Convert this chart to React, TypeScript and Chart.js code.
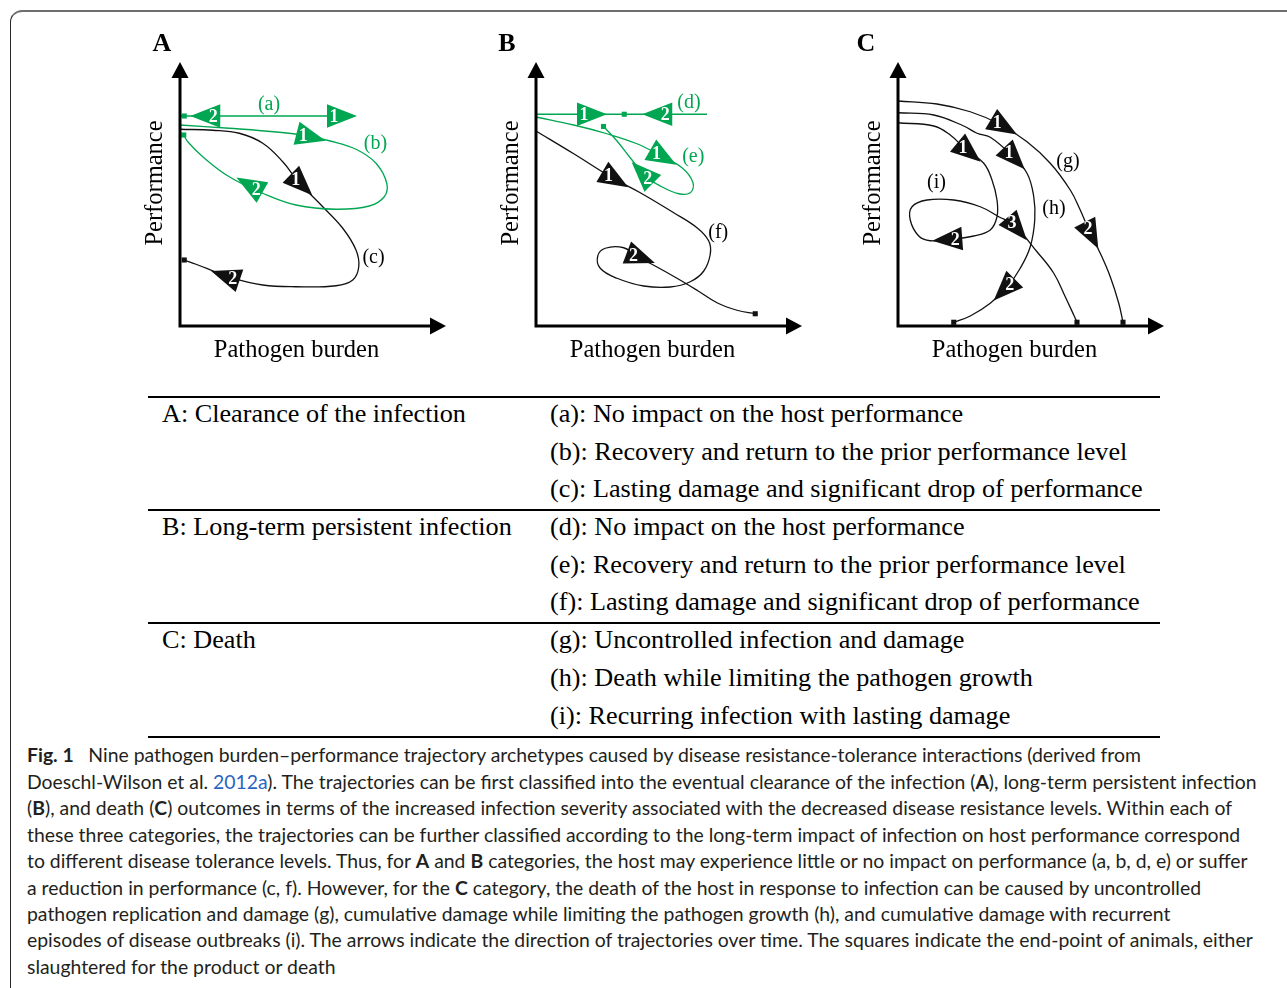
import React, { useEffect, useRef } from "react";
import { Chart, registerables } from "chart.js";

Chart.register(...registerables);

type P = [number, number];
type Arrow = [number, number, number, string]; // x, y, direction (deg, screen), number
type Label = [number, number, string];

const GREEN = "#00a651";
const BLACK = "#111111";
const SERIF = '"Liberation Serif", "Times New Roman", Times, serif';
const SANS = 'Lato, "Open Sans", "Noto Sans", sans-serif';

// ---------- Panel A: clearance ----------
const aPts: P[] = [[0, 84], [60, 84]];
const aArrows: Arrow[] = [[62.8, 84, 0, "1"], [12.1, 84, 180, "2"]];
const aEnd: P = [1.7, 84];
const aLabel: Label = [35.6, 88.6, "(a)"];

const bPts: P[] = [
  [0, 80.4], [19.7, 79.1], [39.7, 77.5], [50.5, 76.1], [59.7, 74.1], [70.4, 70.7],
  [78.4, 65.1], [82.7, 57.1], [81.7, 51.7], [75.7, 48], [62.4, 46.7], [46.4, 48.4],
  [33.1, 53.1], [19.7, 59.7], [9.1, 67.7], [3.1, 73.7], [1.5, 76.4],
];
const bArrows: Arrow[] = [[50.5, 76.1, 14.5, "1"], [29.5, 55.4, 209.6, "2"]];
const bEnd: P = [1.5, 76.4];
const bLabel: Label = [78.2, 72.8, "(b)"];

const cPts: P[] = [
  [0, 78.7], [13.1, 78.3], [23.7, 77.1], [33.1, 73.1], [41.1, 65.7], [47.2, 57.9],
  [57.1, 47.7], [65.1, 39.1], [70.4, 30.4], [71.5, 23.7], [69.1, 18.4], [62.4, 16.1],
  [46.4, 15.7], [33.1, 16.4], [20, 19.4], [13.1, 22.1], [6.4, 24.7], [1.7, 26.4],
];
const cArrows: Arrow[] = [[47.2, 57.9, 44.5, "1"], [20, 19.4, 198.8, "2"]];
const cEnd: P = [1.7, 26.4];
const cLabel: Label = [77.4, 27.3, "(c)"];

// ---------- Panel B: persistent infection ----------
const dPts: P[] = [[0, 84.7], [68.4, 84.7]];
const dArrows: Arrow[] = [[20.4, 84.7, 0, "1"], [50.5, 84.7, 180, "2"]];
const dEnd: P = [35.3, 84.7];
const dLabel: Label = [61.2, 89.4, "(d)"];

const ePts: P[] = [
  [0, 83.6], [15.1, 80.4], [28.4, 76.9], [40.4, 72.9], [49.2, 68.5], [58.4, 63.3],
  [62.8, 57.3], [61.7, 53.3], [57.1, 52.9], [49.7, 56], [43.9, 59.9], [37.7, 67.3],
  [32.4, 74], [27, 79.8],
];
const eArrows: Arrow[] = [[49.2, 68.5, 30, "1"], [43.9, 59.9, 225, "2"]];
const eEnd: P = [27, 79.8];
const eLabel: Label = [62.9, 67.6, "(e)"];

const fPts: P[] = [
  [0, 78], [15.1, 68.9], [30, 59.6], [41.7, 53.3], [55.1, 45.3], [64.4, 39.3],
  [69.1, 34], [69.7, 28.7], [67.1, 22], [61.7, 17.7], [53.7, 15.6], [43.1, 16],
  [32.4, 19.1], [25.7, 23.1], [24.7, 28], [27.7, 31.1], [35.1, 31.3], [40.1, 28],
  [48.4, 23.6], [56.4, 19.1], [64.4, 14.3], [72.4, 9.3], [80.4, 6.3], [87.7, 4.9],
];
const fArrows: Arrow[] = [[30, 59.6, 30.5, "1"], [40.1, 28, 20.8, "2"]];
const fEnd: P = [87.7, 4.9];
const fLabel: Label = [72.9, 37.4, "(f)"];

// ---------- Panel C: death ----------
const gPts: P[] = [
  [0, 90], [15.6, 88.8], [28.9, 85.7], [40.7, 80.7], [51.6, 73.7], [60.9, 65.1],
  [68.9, 54.4], [72.9, 46.4], [76.5, 38], [80.9, 29.1], [84.9, 19.7], [88.3, 9.1], [90, 1.5],
];
const gArrows: Arrow[] = [[40.7, 80.7, 30.6, "1"], [76.5, 38, 63, "2"]];
const gEnd: P = [90, 1.5];
const gLabel: Label = [68, 65.8, "(g)"];

const hPts: P[] = [
  [0, 85.3], [14.3, 84.4], [26.3, 80], [31.6, 77.1], [36.9, 75.5], [45.2, 68.5],
  [51.6, 61.1], [54.3, 51.7], [54.7, 42.4], [52.9, 31.7], [48.9, 23.1], [43.9, 15.9],
  [36.9, 9.1], [28.9, 4], [22.3, 1.5],
];
const hArrows: Arrow[] = [[45.2, 68.5, 46.7, "1"], [43.9, 15.9, 134.5, "2"]];
const hEnd: P = [22.3, 1.5];
const hLabel: Label = [62.4, 47, "(h)"];

const iPts: P[] = [
  [0, 81.3], [14.3, 80], [20.9, 76.4], [26.9, 70.8], [34.3, 65.1], [37.6, 58.4],
  [39.6, 50.4], [39.6, 43.7], [36.9, 38.4], [30.3, 36], [21.7, 34.7], [12.9, 34.1],
  [8.3, 36], [4.9, 42.4], [5.6, 47.7], [11.6, 50.4], [22.3, 50.4], [32.9, 47.7],
  [40.3, 43.7], [46.4, 40.4], [55.6, 29.7], [62.3, 21.1], [66.9, 11.7], [70.3, 4.4], [71.6, 1.5],
];
const iArrows: Arrow[] = [[26.9, 70.8, 39.8, "1"], [21.7, 34.7, 175.8, "2"], [46.4, 40.4, 50, "3"]];
const iEnd: P = [71.6, 1.5];
const iLabel: Label = [15.4, 57.4, "(i)"];

// ---------- Table ----------
const tableHeads = [
  "A: Clearance of the infection",
  "B: Long-term persistent infection",
  "C: Death",
];
const tableItems = [
  [
    "(a): No impact on the host performance",
    "(b): Recovery and return to the prior performance level",
    "(c): Lasting damage and significant drop of performance",
  ],
  [
    "(d): No impact on the host performance",
    "(e): Recovery and return to the prior performance level",
    "(f): Lasting damage and significant drop of performance",
  ],
  [
    "(g): Uncontrolled infection and damage",
    "(h): Death while limiting the pathogen growth",
    "(i): Recurring infection with lasting damage",
  ],
];

// ---------- Caption ----------
const captionLines = [
  "**Fig. 1**\u2002 Nine pathogen burden\u2013performance trajectory archetypes caused by disease resistance-tolerance interactions (derived from",
  "Doeschl-Wilson et al. [[2012a]]). The trajectories can be first classified into the eventual clearance of the infection (**A**), long-term persistent infection",
  "(**B**), and death (**C**) outcomes in terms of the increased infection severity associated with the decreased disease resistance levels. Within each of",
  "these three categories, the trajectories can be further classified according to the long-term impact of infection on host performance correspond",
  "to different disease tolerance levels. Thus, for **A** and **B** categories, the host may experience little or no impact on performance (a, b, d, e) or suffer",
  "a reduction in performance (c, f). However, for the **C** category, the death of the host in response to infection can be caused by uncontrolled",
  "pathogen replication and damage (g), cumulative damage while limiting the pathogen growth (h), and cumulative damage with recurrent",
  "episodes of disease outbreaks (i). The arrows indicate the direction of trajectories over time. The squares indicate the end-point of animals, either",
  "slaughtered for the product or death",
];

interface Series { pts: P[]; color: string; arrows: Arrow[]; end: P; label: Label }
interface PanelCfg { letter: string; left: number; letterDx: number; series: Series[] }

const PANELS: PanelCfg[] = [
  {
    letter: "A", left: 130, letterDx: -18,
    series: [
      { pts: aPts, color: GREEN, arrows: aArrows, end: aEnd, label: aLabel },
      { pts: bPts, color: GREEN, arrows: bArrows, end: bEnd, label: bLabel },
      { pts: cPts, color: BLACK, arrows: cArrows, end: cEnd, label: cLabel },
    ],
  },
  {
    letter: "B", left: 486, letterDx: -29,
    series: [
      { pts: dPts, color: GREEN, arrows: dArrows, end: dEnd, label: dLabel },
      { pts: ePts, color: GREEN, arrows: eArrows, end: eEnd, label: eLabel },
      { pts: fPts, color: BLACK, arrows: fArrows, end: fEnd, label: fLabel },
    ],
  },
  {
    letter: "C", left: 848, letterDx: -32,
    series: [
      { pts: gPts, color: BLACK, arrows: gArrows, end: gEnd, label: gLabel },
      { pts: hPts, color: BLACK, arrows: hArrows, end: hEnd, label: hLabel },
      { pts: iPts, color: BLACK, arrows: iArrows, end: iEnd, label: iLabel },
    ],
  },
];

function Panel({ cfg }: { cfg: PanelCfg }) {
  const ref = useRef<HTMLCanvasElement>(null);
  useEffect(() => {
    const canvas = ref.current;
    if (!canvas) return;
    const datasets: any[] = [];
    cfg.series.forEach((s) => {
      datasets.push({
        data: s.pts.map(([x, y]) => ({ x, y })),
        showLine: true,
        borderColor: s.color,
        backgroundColor: s.color,
        borderWidth: 1.3,
        tension: s.pts.length > 2 ? 0.4 : 0,
        pointRadius: 0,
        pointHoverRadius: 0,
        clip: false,
        order: 2,
      });
      datasets.push({
        data: [{ x: s.end[0], y: s.end[1] }],
        showLine: false,
        pointStyle: "rect",
        pointRadius: 3.6,
        pointHoverRadius: 3.6,
        backgroundColor: s.color,
        borderColor: s.color,
        borderWidth: 0,
        clip: false,
        order: 1,
      });
    });

    const deco = {
      id: "deco",
      afterDatasetsDraw(chart: any) {
        const ctx: CanvasRenderingContext2D = chart.ctx;
        const xs = chart.scales.x;
        const ys = chart.scales.y;
        const { left, right, top, bottom } = chart.chartArea;
        ctx.save();
        cfg.series.forEach((s) => {
          s.arrows.forEach(([x, y, ang, num]) => {
            const px = xs.getPixelForValue(x);
            const py = ys.getPixelForValue(y);
            const a = (ang * Math.PI) / 180;
            ctx.save();
            ctx.translate(px, py);
            ctx.rotate(a);
            ctx.beginPath();
            ctx.moveTo(20, 0);
            ctx.lineTo(-10, -11.8);
            ctx.lineTo(-10, 11.8);
            ctx.closePath();
            ctx.fillStyle = s.color;
            ctx.fill();
            ctx.restore();
            ctx.fillStyle = "#ffffff";
            ctx.font = `bold 18px ${SERIF}`;
            ctx.textAlign = "center";
            ctx.textBaseline = "middle";
            ctx.fillText(num, px - Math.cos(a) * 3, py - Math.sin(a) * 3 + 1);
          });
          const [lx, ly, lt] = s.label;
          ctx.fillStyle = s.color === GREEN ? GREEN : "#000";
          ctx.font = `20px ${SERIF}`;
          ctx.textAlign = "center";
          ctx.textBaseline = "middle";
          ctx.fillText(lt, xs.getPixelForValue(lx), ys.getPixelForValue(ly));
        });

        // axes with arrow heads
        ctx.strokeStyle = "#000";
        ctx.fillStyle = "#000";
        ctx.lineWidth = 3;
        ctx.lineCap = "butt";
        ctx.beginPath();
        ctx.moveTo(left, top + 2);
        ctx.lineTo(left, bottom);
        ctx.lineTo(right, bottom);
        ctx.stroke();
        ctx.beginPath();
        ctx.moveTo(left, top - 14);
        ctx.lineTo(left - 8.5, top + 2);
        ctx.lineTo(left + 8.5, top + 2);
        ctx.closePath();
        ctx.fill();
        ctx.beginPath();
        ctx.moveTo(right + 16, bottom);
        ctx.lineTo(right, bottom - 8.5);
        ctx.lineTo(right, bottom + 8.5);
        ctx.closePath();
        ctx.fill();

        // titles
        ctx.fillStyle = "#000";
        ctx.textBaseline = "alphabetic";
        ctx.textAlign = "center";
        ctx.font = `bold 26px ${SERIF}`;
        ctx.fillText(cfg.letter, left + cfg.letterDx, bottom - 275);
        ctx.font = `24.5px ${SERIF}`;
        ctx.fillText("Pathogen burden", left + 116.5, bottom + 31);
        ctx.save();
        ctx.translate(left - 18, bottom - 143);
        ctx.rotate(-Math.PI / 2);
        ctx.fillText("Performance", 0, 0);
        ctx.restore();
        ctx.restore();
      },
    };

    const chart = new Chart(canvas, {
      type: "scatter",
      data: { datasets },
      options: {
        animation: false,
        responsive: false,
        devicePixelRatio: 1,
        events: [],
        layout: { padding: { left: 50, top: 56, right: 30, bottom: 44 } },
        scales: {
          x: { type: "linear", min: 0, max: 100, display: false },
          y: { type: "linear", min: 0, max: 100, display: false },
        },
        plugins: { legend: { display: false }, tooltip: { enabled: false } },
      },
      plugins: [deco],
    } as any);
    return () => chart.destroy();
  }, [cfg]);
  return (
    <canvas
      ref={ref}
      width={330}
      height={350}
      style={{ position: "absolute", left: cfg.left, top: 20, width: 330, height: 350 }}
    />
  );
}

function renderCaptionLine(line: string, key: number) {
  const parts = line.split(/(\*\*[^*]+\*\*|\[\[[^\]]+\]\])/).filter((p) => p.length > 0);
  return (
    <div key={key} style={{ whiteSpace: "pre" }}>
      {parts.map((p, i) => {
        if (p.startsWith("**")) return <b key={i} style={{ fontWeight: 700 }}>{p.slice(2, -2)}</b>;
        if (p.startsWith("[[")) return <span key={i} style={{ color: "#2a64c0" }}>{p.slice(2, -2)}</span>;
        return <span key={i}>{p}</span>;
      })}
    </div>
  );
}

export default function App() {
  const groupTop = 396;
  const groupH = 113.2;
  const rowH = 37.6;
  const tableFont = 26.2;
  return (
    <div
      style={{
        position: "fixed", left: 0, top: 0, width: 1287, height: 988,
        overflow: "hidden", background: "#ffffff",
      }}
    >
      <div
        style={{
          position: "absolute", left: 10, top: 10, width: 1400, height: 1100,
          borderTop: "2px solid #6e6e6e", borderLeft: "1.5px solid #2a2a2a",
          borderTopLeftRadius: 12, boxSizing: "border-box",
        }}
      />
      {PANELS.map((p) => (
        <Panel key={p.letter} cfg={p} />
      ))}

      {/* table */}
      {[0, 1, 2, 3].map((g) => (
        <div
          key={"r" + g}
          style={{
            position: "absolute", left: 148, top: groupTop + g * groupH, width: 1012,
            height: 2, background: "#000",
          }}
        />
      ))}
      {tableHeads.map((h, g) => (
        <div
          key={"h" + g}
          style={{
            position: "absolute", left: 162, top: 414 + g * groupH - 15, height: 30,
            lineHeight: "30px", fontFamily: SERIF, fontSize: tableFont, color: "#000",
            whiteSpace: "nowrap",
          }}
        >
          {h}
        </div>
      ))}
      {tableItems.map((items, g) =>
        items.map((t, r) => (
          <div
            key={"i" + g + r}
            style={{
              position: "absolute", left: 550, top: 414 + g * groupH + r * rowH - 15,
              height: 30, lineHeight: "30px", fontFamily: SERIF, fontSize: tableFont,
              color: "#000", whiteSpace: "nowrap",
            }}
          >
            {t}
          </div>
        ))
      )}

      {/* caption */}
      <div
        style={{
          position: "absolute", left: 27, top: 742.3, fontFamily: SANS, fontSize: 19.4,
          lineHeight: "26.46px", color: "#231f20",
        }}
      >
        {captionLines.map((l, i) => renderCaptionLine(l, i))}
      </div>
    </div>
  );
}
